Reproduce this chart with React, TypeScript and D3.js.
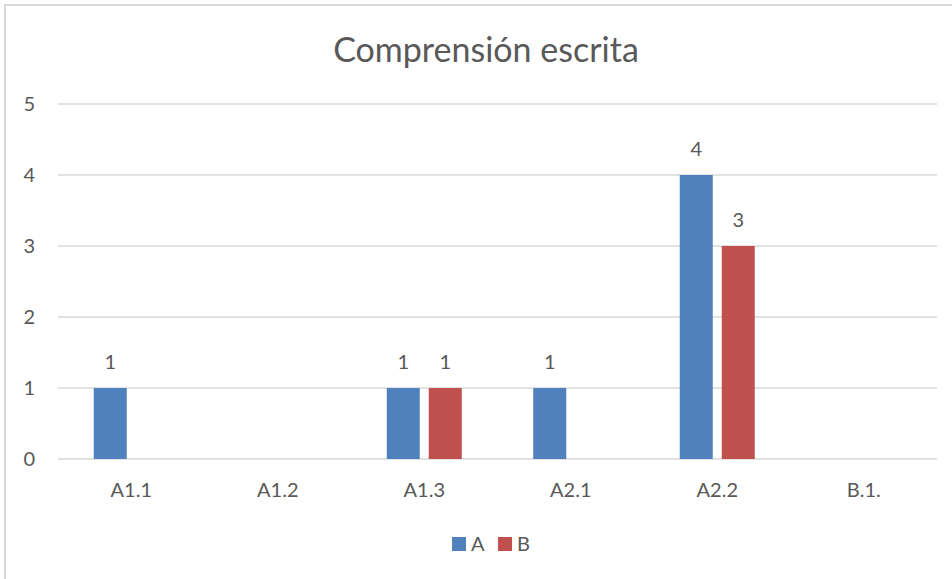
import React from "react";
import * as d3 from "d3";

const categories = ["A1.1", "A1.2", "A1.3", "A2.1", "A2.2", "B.1."];
const seriesNames = ["A", "B"];
const seriesA = [1, 0, 1, 1, 4, 0];
const seriesB = [0, 0, 1, 0, 3, 0];
const yTicks = [0, 1, 2, 3, 4, 5];
const colors = ["#4F81BD", "#C0504D"];

const W = 952;
const H = 579;
const FONT = "Lato, 'Open Sans', sans-serif";
const TEXT = "#595959";

export default function App() {
  const plotLeft = 58;
  const plotRight = 937;
  const plotTop = 104;
  const plotBottom = 459;

  const x0 = d3
    .scaleBand<string>()
    .domain(categories)
    .range([plotLeft, plotRight])
    .paddingInner(1 - 75 / 146.5)
    .paddingOuter((1 - 75 / 146.5) / 2);
  const x1 = d3
    .scaleBand<string>()
    .domain(seriesNames)
    .range([0, x0.bandwidth()])
    .paddingInner(9 / 42)
    .paddingOuter(0);
  const y = d3.scaleLinear().domain([0, 5]).range([plotBottom, plotTop]);

  const values = [seriesA, seriesB];

  return (
    <svg
      width={W}
      height={H}
      style={{ position: "absolute", left: 0, top: 0, background: "#fff" }}
    >
      <rect x={5} y={5} width={W + 10} height={H + 10} fill="#fff" stroke="#D9D9D9" strokeWidth={2} />
      <text
        x={486}
        y={62}
        textAnchor="middle"
        fontFamily={FONT}
        fontSize={34}
        fill={TEXT}
      >
        Comprensión escrita
      </text>

      {yTicks.map((t) => (
        <g key={t}>
          <line x1={plotLeft} x2={plotRight} y1={y(t)} y2={y(t)} stroke="#D9D9D9" strokeWidth={1.5} />
          <text
            x={35}
            y={y(t)}
            dy="0.35em"
            textAnchor="end"
            fontFamily={FONT}
            fontSize={20}
            fill={TEXT}
          >
            {t}
          </text>
        </g>
      ))}

      {categories.map((c, i) => (
        <g key={c}>
          {seriesNames.map((s, j) => {
            const v = values[j][i];
            if (!v) return null;
            const bx = (x0(c) as number) + (x1(s) as number);
            return (
              <g key={s}>
                <rect
                  x={bx}
                  y={y(v)}
                  width={x1.bandwidth()}
                  height={y(0) - y(v)}
                  fill={colors[j]}
                />
                <text
                  x={bx + x1.bandwidth() / 2}
                  y={y(v) - 19}
                  textAnchor="middle"
                  fontFamily={FONT}
                  fontSize={20}
                  fill={TEXT}
                >
                  {v}
                </text>
              </g>
            );
          })}
          <text
            x={(x0(c) as number) + x0.bandwidth() / 2}
            y={497}
            textAnchor="middle"
            fontFamily={FONT}
            fontSize={20}
            fill={TEXT}
          >
            {c}
          </text>
        </g>
      ))}

      {seriesNames.map((s, j) => (
        <g key={s} transform={`translate(${452 + j * 46},537)`}>
          <rect x={0} y={0} width={14} height={14} fill={colors[j]} />
          <text x={19} y={14} fontFamily={FONT} fontSize={20} fill={TEXT}>
            {s}
          </text>
        </g>
      ))}
    </svg>
  );
}
